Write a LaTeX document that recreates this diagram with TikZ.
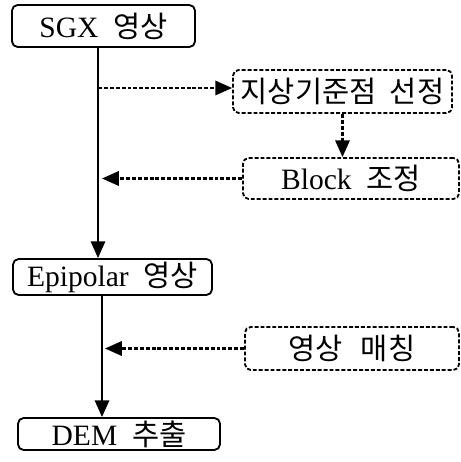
\documentclass[tikz,border=0pt]{standalone}
\usepackage{fontspec}
\setmainfont{Liberation Serif}
\newfontfamily\kr{Noto Sans CJK KR}
\usetikzlibrary{arrows.meta}

\tikzset{
  box/.style={draw, line width=1.3pt, rounded corners=4pt, inner sep=0pt,
    font=\fontsize{21}{23}\selectfont},
  dbox/.style={box, dash pattern=on 2.8pt off 1.4pt},
  flow/.style={line width=1.4pt},
  dflow/.style={line width=1.5pt, dash pattern=on 2.8pt off 1.4pt},
}

\begin{document}
\begin{tikzpicture}[scale=1.0, >={Triangle[length=0.42cm, width=0.36cm]}]
  \useasboundingbox (0, 0) rectangle (11.525, 11.55);

  \node[box, minimum width=4.575cm, minimum height=1.05cm] (sgx) at (2.5875, 10.9) {SGX\hspace{0.5em}{\kr 영상}};
  \node[dbox, minimum width=5.475cm, minimum height=1.075cm] (gcp) at (8.5625, 9.2625) {\kr 지상기준점\hspace{0.45em}선정};
  \node[dbox, minimum width=5.4cm, minimum height=1.025cm] (blk) at (8.775, 7.0875) {Block\hspace{0.5em}{\kr 조정}};
  \node[box, minimum width=4.975cm, minimum height=0.9cm] (epi) at (2.8125, 4.625) {Epipolar\hspace{0.5em}{\kr 영상}};
  \node[dbox, minimum width=5.35cm, minimum height=1.075cm] (mat) at (8.8, 2.8375) {\kr 영상\hspace{0.6em}매칭};
  \node[box, minimum width=5.05cm, minimum height=0.8cm] (dem) at (2.975, 0.7) {DEM\hspace{0.5em}{\kr 추출}};

  % main trunk
  \coordinate (t1) at (2.45, 9.35);
  \coordinate (t2) at (2.55, 6.95);
  \coordinate (t3) at (2.55, 2.85);
  \draw[flow, ->] (t1 |- sgx.south) -- (t1 |- epi.north);
  \draw[flow, ->] (t2 |- epi.south) -- (t2 |- dem.north);

  % side branches
  \draw[dflow, ->] (t1) -- (t1 -| gcp.west);
  \draw[dflow, ->] (gcp.south) -- (gcp.south |- blk.north);
  \draw[dflow, ->] (blk.west) -- (blk.west -| t2);
  \draw[dflow, ->] (mat.west) -- ([xshift=0.075cm] mat.west -| t3);
\end{tikzpicture}
\end{document}
